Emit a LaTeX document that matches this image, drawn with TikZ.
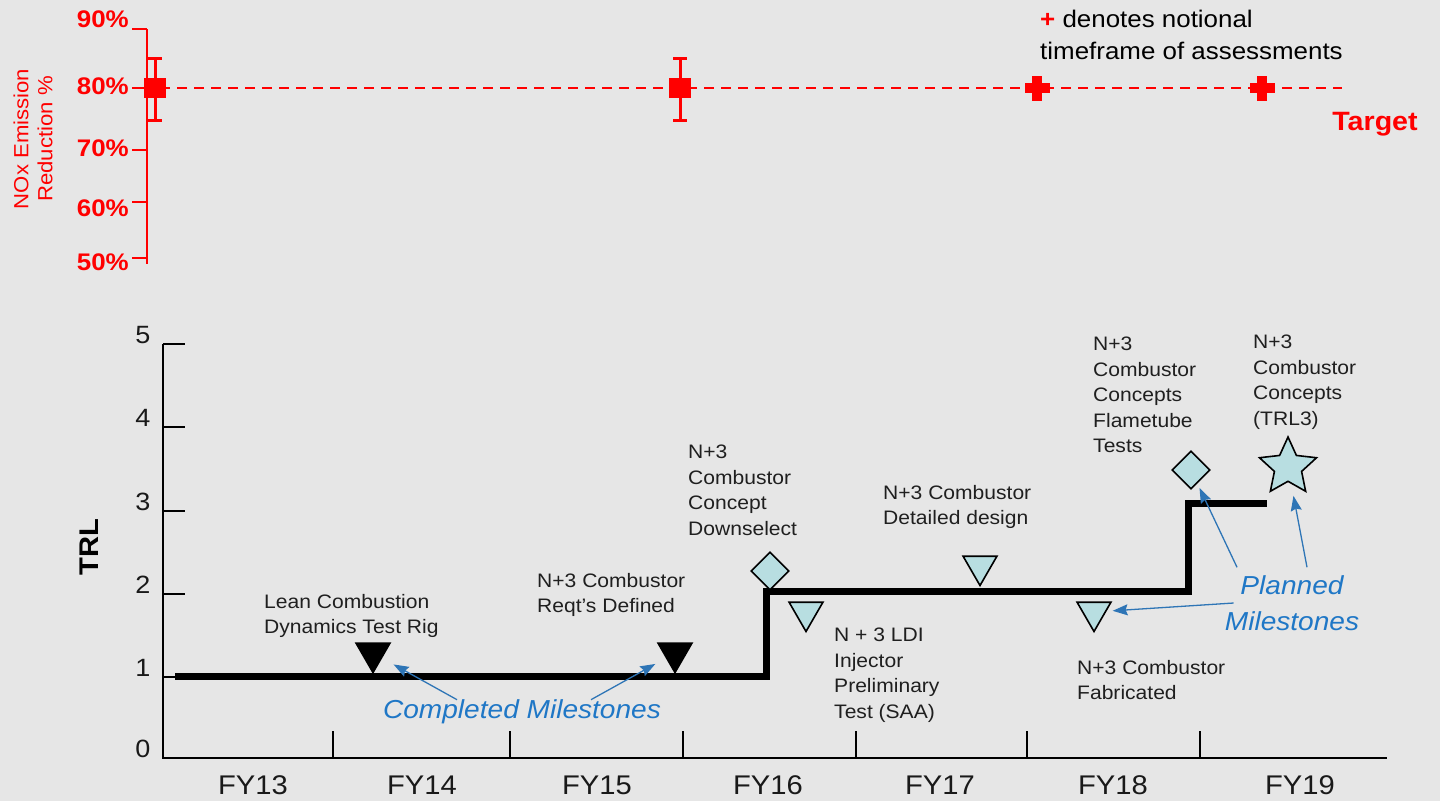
\documentclass[tikz,border=0pt]{standalone}
\usepackage{fontspec}
\setmainfont{Liberation Sans}[FakeStretch=1.08]
\usetikzlibrary{shapes.geometric,arrows.meta}
\definecolor{bggray}{RGB}{230,230,230}
\definecolor{nred}{RGB}{255,0,0}
\definecolor{mblue}{RGB}{31,119,198}
\definecolor{ablue}{RGB}{46,117,182}
\definecolor{mfill}{RGB}{184,222,225}
\tikzset{
  mlabel/.style={anchor=north west,align=left,inner sep=0pt,text=black!88,font=\fontsize{19.5}{25.5}\selectfont},
  downtri/.style={regular polygon,regular polygon sides=3,shape border rotate=180,minimum size=39pt,inner sep=0pt,draw=black,line width=1.6pt},
  done/.style={downtri,fill=black},
  todo/.style={downtri,fill=mfill},
  gem/.style={diamond,minimum size=38pt,inner sep=0pt,draw=black,line width=1.6pt,fill=mfill},
  trlstar/.style={star,star points=5,star point ratio=2.1,minimum size=60pt,inner sep=0pt,draw=black,line width=1.6pt,fill=mfill},
  callout/.style={font=\fontsize{26}{36}\selectfont\itshape,text=mblue,inner sep=0pt,align=center},
  pointer/.style={draw=ablue,line width=1.3pt,-{Stealth[length=15pt,width=11pt,inset=2pt]}},
  pct/.style={anchor=east,inner sep=0pt,text=nred,font=\fontsize{24}{28}\selectfont\bfseries},
  fy/.style={inner sep=0pt,text=black!90,font=\fontsize{27}{30}\selectfont},
  trlnum/.style={inner sep=0pt,text=black!90,font=\fontsize{25}{30}\selectfont},
}
\begin{document}
\begin{tikzpicture}[x=1pt,y=-1pt]
   \fill[bggray] (0,0) rectangle (1440,801);
   \useasboundingbox (0,0) rectangle (1440,801);
   % NOx reduction chart
   \draw[nred,line width=2pt] (147,29) -- (147,264);
   \foreach \p/\y/\ly in {90/29/19,80/88/86,70/150/148,60/202/208,50/258/262}{
     \draw[nred,line width=2pt] (132,\y) -- (147,\y);
     \node[pct] (pct\p) at (129,\ly) {\p\%};
   }
   \node[rotate=90,align=center,inner sep=0pt,text=nred,font=\fontsize{20.5}{24}\selectfont] (noxtitle) at (33,139) {NOx Emission\\Reduction \%};
   \draw[nred,line width=2.6pt,dash pattern=on 10pt off 7pt] (160,88) -- (1342,88);
   \foreach \x in {155,680}{
     \draw[nred,line width=3pt] (\x,58) -- (\x,120) (\x-7,58) -- (\x+7,58) (\x-7,120) -- (\x+7,120);
     \fill[nred] (\x-11,78) rectangle (\x+11,98);
   }
   \foreach \x in {1037,1262}{
     \fill[nred] (\x-12.5,83) rectangle (\x+12.5,93);
     \fill[nred] (\x-5,75.5) rectangle (\x+5,100.5);
   }
   \node[anchor=north west,align=left,inner sep=0pt,font=\fontsize{24}{32}\selectfont] (note) at (1040,10)
     {\textcolor{nred}{\textbf{+}} denotes notional\\timeframe of assessments};
   \node[inner sep=0pt,text=nred,font=\fontsize{26.5}{30}\selectfont\bfseries] (target) at (1375,124) {Target};
   % TRL chart axes
   \draw[line width=2pt] (163,344) -- (163,758) -- (1387,758);
   \foreach \v/\y in {0/758,1/677,2/594,3/511,4/427,5/344}{
     \draw[line width=2pt] (163,\y) -- (185,\y);
     \node[trlnum] (trl\v) at (143,\y-9) {\v};
   }
   \node[rotate=90,inner sep=0pt,font=\fontsize{27}{30}\selectfont\bfseries] (trltitle) at (89,547) {TRL};
   \foreach \x in {333,510,683,856,1027,1200}
     \draw[line width=2pt] (\x,731) -- (\x,758);
   \foreach \n/\x in {13/253,14/422,15/597,16/768,17/940,18/1113,19/1300}
     \node[fy] (fy\n) at (\x,785) {FY\n};
   % TRL steps
   \draw[line width=7pt] (175,676) -- (766,676) -- (766,591) -- (1188,591) -- (1188,503) -- (1267,503);
   % milestones
   \node[done] (lean) at (373,653) {};
   \node[done] (reqt) at (675,653) {};
   \node[gem] (dsel) at (770,571) {};
   \node[todo] (ldi) at (806,612) {};
   \node[todo] (ddes) at (980,566) {};
   \node[todo] (fab) at (1094,612) {};
   \node[gem] (ftube) at (1191,470) {};
   \node[trlstar] (trlthree) at (1288,467) {};
   \node[mlabel] (leanlbl) at (264,594) {Lean Combustion\\Dynamics Test Rig};
   \node[mlabel] (reqtlbl) at (537,573) {N+3 Combustor\\Reqt’s Defined};
   \node[mlabel] (dsellbl) at (688,445) {N+3\\Combustor\\Concept\\Downselect};
   \node[mlabel] (ddeslbl) at (883,485) {N+3 Combustor\\Detailed design};
   \node[mlabel] (ldilbl) at (834,628) {N + 3 LDI\\Injector\\Preliminary\\Test (SAA)};
   \node[mlabel] (fablbl) at (1077,660) {N+3 Combustor\\Fabricated};
   \node[mlabel] (ftubelbl) at (1093,337) {N+3\\Combustor\\Concepts\\Flametube\\Tests};
   \node[mlabel] (trllbl) at (1253,335) {N+3\\Combustor\\Concepts\\(TRL3)};
   % callouts
   \node[callout] (cmtext) at (522,712) {Completed Milestones};
   \node[callout] (pmtext) at (1292,603) {Planned\\Milestones};
   \draw[pointer,shorten >=13pt] ([xshift=-65pt]cmtext.north) -- (lean);
   \draw[pointer,shorten >=12pt] ([xshift=69pt]cmtext.north) -- (reqt);
   \draw[pointer,shorten >=6pt] ([xshift=9pt]pmtext.west) -- (fab);
   \draw[pointer,shorten >=5pt] ([xshift=-55pt,yshift=8pt]pmtext.north) -- (ftube);
   \draw[pointer,shorten >=12pt] ([xshift=15pt,yshift=8pt]pmtext.north) -- (trlthree);
\end{tikzpicture}
\end{document}
